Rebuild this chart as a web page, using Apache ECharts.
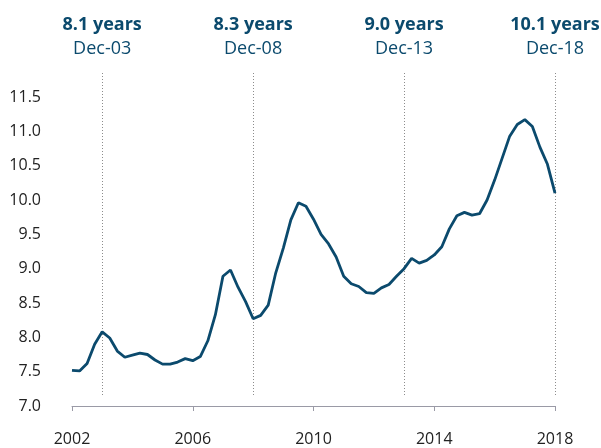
<!DOCTYPE html>
<html lang="en">
<head>
    <meta charset="UTF-8">
    <title>Chart</title>
    <script src="https://cdn.jsdelivr.net/npm/echarts@6/dist/echarts.min.js"></script>
    <style>
        html, body { margin: 0; padding: 0; background: #fff; }
        #chart { width: 601px; height: 448px; }
    </style>
</head>
<body>
<div id="chart"></div>
<script>
    // quarterly observations, Dec-02 .. Dec-18 (x in axis years)
    var startYear = 2002;
    var values = [
        7.52, 7.51, 7.62, 7.90, 8.08, 7.99, 7.80, 7.71, 7.74, 7.77, 7.75, 7.67, 7.61,
        7.61, 7.64, 7.69, 7.66, 7.72, 7.95, 8.33, 8.89, 8.98, 8.73, 8.52, 8.27,
        8.32, 8.47, 8.94, 9.30, 9.71, 9.96, 9.91, 9.72, 9.50, 9.36, 9.17, 8.89,
        8.78, 8.74, 8.65, 8.64, 8.72, 8.77, 8.89, 9.00, 9.15, 9.08, 9.12, 9.20,
        9.32, 9.58, 9.77, 9.82, 9.78, 9.80, 10.00, 10.29, 10.61, 10.93, 11.10, 11.17,
        11.07, 10.77, 10.52, 10.10
    ];
    // annotated points
    var markYears = [2003, 2008, 2013, 2018];
    var markValues = ['8.1 years', '8.3 years', '9.0 years', '10.1 years'];
    var markDates = ['Dec-03', 'Dec-08', 'Dec-13', 'Dec-18'];
    var markRange = [7.16, 11.85]; // vertical extent of the dotted guides

    var yTicks = { min: 7.0, max: 11.5, step: 0.5 };
    var xTicks = { min: 2002, max: 2018, step: 4 };

    var seriesData = values.map(function (v, i) {
        return [startYear + i / 4, v];
    });

    var blue = '#0b4a6d';

    var chart = echarts.init(document.getElementById('chart'));
    chart.setOption({
        animation: false,
        textStyle: { fontFamily: 'Open Sans' },
        grid: { left: 72, right: 46, top: 97, bottom: 42 },
        xAxis: {
            type: 'value',
            min: xTicks.min,
            max: xTicks.max,
            interval: xTicks.step,
            axisLine: { lineStyle: { color: '#9a9aa6', width: 1 } },
            axisTick: { show: true, length: 5, lineStyle: { color: '#9a9aa6' } },
            splitLine: { show: false },
            axisLabel: {
                color: '#222',
                fontSize: 16,
                margin: 25,
                formatter: function (v) { return String(v); }
            }
        },
        yAxis: {
            type: 'value',
            min: yTicks.min,
            max: yTicks.max,
            interval: yTicks.step,
            axisLine: { show: false },
            axisTick: { show: false },
            splitLine: { show: false },
            axisLabel: {
                color: '#222',
                fontSize: 16,
                margin: 31,
                formatter: function (v) { return v.toFixed(1); }
            }
        },
        series: [{
            type: 'line',
            data: seriesData,
            showSymbol: false,
            clip: false,
            lineStyle: { color: blue, width: 2.8 },
            z: 3
        }]
    });

    // dotted guides + labels, positioned through the axes
    var elements = [];
    markYears.forEach(function (yr, i) {
        var p1 = chart.convertToPixel({ gridIndex: 0 }, [yr, markRange[0]]);
        var p2 = chart.convertToPixel({ gridIndex: 0 }, [yr, markRange[1]]);
        var x = Math.round(p1[0]) + 0.5;
        elements.push({
            type: 'line',
            silent: true,
            z: 1,
            shape: { x1: x, y1: p1[1], x2: x, y2: p2[1] },
            style: { stroke: '#8c8c8c', lineWidth: 1, lineDash: [1, 2] }
        });
        elements.push({
            type: 'text',
            silent: true,
            x: p1[0], y: p2[1] - 48,
            style: {
                text: markValues[i], fill: blue, fontFamily: 'Open Sans',
                fontSize: 18, fontWeight: 'bold', align: 'center', verticalAlign: 'middle'
            }
        });
        elements.push({
            type: 'text',
            silent: true,
            x: p1[0], y: p2[1] - 24,
            style: {
                text: markDates[i], fill: blue, fontFamily: 'Open Sans',
                fontSize: 18, align: 'center', verticalAlign: 'middle'
            }
        });
    });
    chart.setOption({ graphic: { elements: elements } });
</script>
</body>
</html>
